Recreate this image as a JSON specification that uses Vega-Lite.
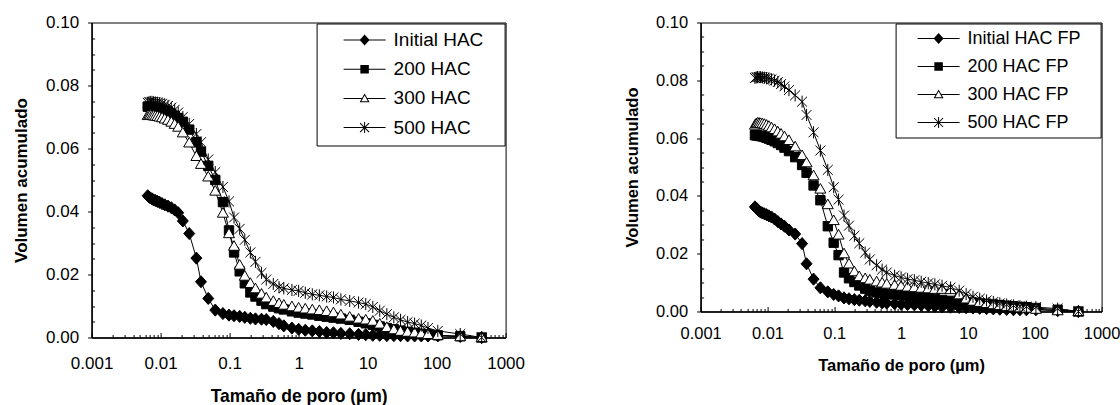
{
"$schema": "https://vega.github.io/schema/vega-lite/v6.json",
"background": "white",
"padding": {"left": 11.6, "top": 12.5, "right": 0, "bottom": 0},
"config": {
  "font": "Liberation Sans",
  "view": {"stroke": "black", "strokeWidth": 1},
  "axis": {"domainColor": "black", "domainWidth": 1.5, "tickColor": "black", "tickWidth": 1, "labelColor": "black", "titleColor": "black", "labelFont": "Liberation Sans", "titleFont": "Liberation Sans", "titleFontWeight": "bold", "grid": false}
},
"datasets": {
"left": [
{"s":"Initial HAC","x":0.0065,"y":0.045},{"s":"Initial HAC","x":0.0068,"y":0.0446},{"s":"Initial HAC","x":0.0071,"y":0.0443},{"s":"Initial HAC","x":0.0075,"y":0.044},{"s":"Initial HAC","x":0.0079,"y":0.0437},{"s":"Initial HAC","x":0.0084,"y":0.0435},{"s":"Initial HAC","x":0.009,"y":0.0432},{"s":"Initial HAC","x":0.0097,"y":0.0429},{"s":"Initial HAC","x":0.0105,"y":0.0425},{"s":"Initial HAC","x":0.0115,"y":0.0421},{"s":"Initial HAC","x":0.0128,"y":0.0417},{"s":"Initial HAC","x":0.0143,"y":0.0412},{"s":"Initial HAC","x":0.016,"y":0.0405},{"s":"Initial HAC","x":0.018,"y":0.0396},{"s":"Initial HAC","x":0.021,"y":0.037},{"s":"Initial HAC","x":0.026,"y":0.033},{"s":"Initial HAC","x":0.033,"y":0.0252},{"s":"Initial HAC","x":0.0385,"y":0.0177},{"s":"Initial HAC","x":0.049,"y":0.0124},{"s":"Initial HAC","x":0.062,"y":0.0087},{"s":"Initial HAC","x":0.08,"y":0.0076},{"s":"Initial HAC","x":0.098,"y":0.0071},{"s":"Initial HAC","x":0.116,"y":0.0069},{"s":"Initial HAC","x":0.14,"y":0.0067},{"s":"Initial HAC","x":0.166,"y":0.0064},{"s":"Initial HAC","x":0.2,"y":0.0061},{"s":"Initial HAC","x":0.237,"y":0.0059},{"s":"Initial HAC","x":0.29,"y":0.0058},{"s":"Initial HAC","x":0.34,"y":0.0057},{"s":"Initial HAC","x":0.43,"y":0.0051},{"s":"Initial HAC","x":0.52,"y":0.0044},{"s":"Initial HAC","x":0.61,"y":0.0037},{"s":"Initial HAC","x":0.8,"y":0.003},{"s":"Initial HAC","x":1,"y":0.0026},{"s":"Initial HAC","x":1.25,"y":0.0023},{"s":"Initial HAC","x":1.58,"y":0.0021},{"s":"Initial HAC","x":2,"y":0.0019},{"s":"Initial HAC","x":2.55,"y":0.0016},{"s":"Initial HAC","x":3.2,"y":0.0015},{"s":"Initial HAC","x":4.1,"y":0.0013},{"s":"Initial HAC","x":5.5,"y":0.0012},{"s":"Initial HAC","x":7.4,"y":0.001},{"s":"Initial HAC","x":9.4,"y":0.0009},{"s":"Initial HAC","x":11.9,"y":0.0007},{"s":"Initial HAC","x":15,"y":0.0007},{"s":"Initial HAC","x":19,"y":0.0006},{"s":"Initial HAC","x":24,"y":0.0006},{"s":"Initial HAC","x":30,"y":0.0006},{"s":"Initial HAC","x":38,"y":0.0005},{"s":"Initial HAC","x":48,"y":0.0005},{"s":"Initial HAC","x":60,"y":0.0005},{"s":"Initial HAC","x":75,"y":0.0005},{"s":"Initial HAC","x":104,"y":0.0005},{"s":"Initial HAC","x":220,"y":0.0003},{"s":"Initial HAC","x":450,"y":0},
{"s":"200 HAC","x":0.0065,"y":0.0733},{"s":"200 HAC","x":0.0068,"y":0.0733},{"s":"200 HAC","x":0.0071,"y":0.0732},{"s":"200 HAC","x":0.0075,"y":0.0731},{"s":"200 HAC","x":0.0079,"y":0.073},{"s":"200 HAC","x":0.0084,"y":0.0729},{"s":"200 HAC","x":0.009,"y":0.0727},{"s":"200 HAC","x":0.0097,"y":0.0725},{"s":"200 HAC","x":0.0105,"y":0.0722},{"s":"200 HAC","x":0.0115,"y":0.0719},{"s":"200 HAC","x":0.0128,"y":0.0715},{"s":"200 HAC","x":0.0143,"y":0.071},{"s":"200 HAC","x":0.016,"y":0.0704},{"s":"200 HAC","x":0.018,"y":0.0697},{"s":"200 HAC","x":0.021,"y":0.0685},{"s":"200 HAC","x":0.026,"y":0.066},{"s":"200 HAC","x":0.033,"y":0.062},{"s":"200 HAC","x":0.0385,"y":0.059},{"s":"200 HAC","x":0.049,"y":0.0545},{"s":"200 HAC","x":0.062,"y":0.05},{"s":"200 HAC","x":0.08,"y":0.043},{"s":"200 HAC","x":0.098,"y":0.034},{"s":"200 HAC","x":0.116,"y":0.027},{"s":"200 HAC","x":0.14,"y":0.021},{"s":"200 HAC","x":0.166,"y":0.0172},{"s":"200 HAC","x":0.2,"y":0.0143},{"s":"200 HAC","x":0.237,"y":0.013},{"s":"200 HAC","x":0.29,"y":0.0117},{"s":"200 HAC","x":0.34,"y":0.0106},{"s":"200 HAC","x":0.43,"y":0.0098},{"s":"200 HAC","x":0.52,"y":0.0093},{"s":"200 HAC","x":0.61,"y":0.0089},{"s":"200 HAC","x":0.8,"y":0.0083},{"s":"200 HAC","x":1,"y":0.0079},{"s":"200 HAC","x":1.25,"y":0.0076},{"s":"200 HAC","x":1.58,"y":0.0073},{"s":"200 HAC","x":2,"y":0.0069},{"s":"200 HAC","x":2.55,"y":0.0066},{"s":"200 HAC","x":3.2,"y":0.0063},{"s":"200 HAC","x":4.1,"y":0.006},{"s":"200 HAC","x":5.5,"y":0.0056},{"s":"200 HAC","x":7.4,"y":0.005},{"s":"200 HAC","x":9.4,"y":0.0045},{"s":"200 HAC","x":11.9,"y":0.004},{"s":"200 HAC","x":15,"y":0.0035},{"s":"200 HAC","x":19,"y":0.003},{"s":"200 HAC","x":24,"y":0.0026},{"s":"200 HAC","x":30,"y":0.0022},{"s":"200 HAC","x":38,"y":0.0018},{"s":"200 HAC","x":48,"y":0.0015},{"s":"200 HAC","x":60,"y":0.0012},{"s":"200 HAC","x":75,"y":0.001},{"s":"200 HAC","x":104,"y":0.0007},{"s":"200 HAC","x":220,"y":0.0004},{"s":"200 HAC","x":450,"y":0},
{"s":"300 HAC","x":0.0065,"y":0.0705},{"s":"300 HAC","x":0.0068,"y":0.0706},{"s":"300 HAC","x":0.0071,"y":0.0706},{"s":"300 HAC","x":0.0075,"y":0.0705},{"s":"300 HAC","x":0.0079,"y":0.0704},{"s":"300 HAC","x":0.0084,"y":0.0703},{"s":"300 HAC","x":0.009,"y":0.0702},{"s":"300 HAC","x":0.0097,"y":0.07},{"s":"300 HAC","x":0.0105,"y":0.0698},{"s":"300 HAC","x":0.0115,"y":0.0694},{"s":"300 HAC","x":0.0128,"y":0.069},{"s":"300 HAC","x":0.0143,"y":0.0684},{"s":"300 HAC","x":0.016,"y":0.0677},{"s":"300 HAC","x":0.018,"y":0.0668},{"s":"300 HAC","x":0.021,"y":0.065},{"s":"300 HAC","x":0.026,"y":0.0618},{"s":"300 HAC","x":0.033,"y":0.0575},{"s":"300 HAC","x":0.0385,"y":0.055},{"s":"300 HAC","x":0.049,"y":0.051},{"s":"300 HAC","x":0.062,"y":0.0465},{"s":"300 HAC","x":0.08,"y":0.0395},{"s":"300 HAC","x":0.098,"y":0.033},{"s":"300 HAC","x":0.116,"y":0.029},{"s":"300 HAC","x":0.14,"y":0.023},{"s":"300 HAC","x":0.166,"y":0.0195},{"s":"300 HAC","x":0.2,"y":0.0172},{"s":"300 HAC","x":0.237,"y":0.0155},{"s":"300 HAC","x":0.29,"y":0.0138},{"s":"300 HAC","x":0.34,"y":0.0126},{"s":"300 HAC","x":0.43,"y":0.0115},{"s":"300 HAC","x":0.52,"y":0.0108},{"s":"300 HAC","x":0.61,"y":0.0103},{"s":"300 HAC","x":0.8,"y":0.0098},{"s":"300 HAC","x":1,"y":0.0094},{"s":"300 HAC","x":1.25,"y":0.0091},{"s":"300 HAC","x":1.58,"y":0.0088},{"s":"300 HAC","x":2,"y":0.0086},{"s":"300 HAC","x":2.55,"y":0.0083},{"s":"300 HAC","x":3.2,"y":0.0079},{"s":"300 HAC","x":4.1,"y":0.0072},{"s":"300 HAC","x":5.5,"y":0.0065},{"s":"300 HAC","x":7.4,"y":0.0059},{"s":"300 HAC","x":9.4,"y":0.0056},{"s":"300 HAC","x":11.9,"y":0.0052},{"s":"300 HAC","x":15,"y":0.0043},{"s":"300 HAC","x":19,"y":0.0032},{"s":"300 HAC","x":24,"y":0.0025},{"s":"300 HAC","x":30,"y":0.002},{"s":"300 HAC","x":38,"y":0.0017},{"s":"300 HAC","x":48,"y":0.0015},{"s":"300 HAC","x":60,"y":0.0012},{"s":"300 HAC","x":75,"y":0.001},{"s":"300 HAC","x":104,"y":0.0007},{"s":"300 HAC","x":220,"y":0.0003},{"s":"300 HAC","x":450,"y":0},
{"s":"500 HAC","x":0.0065,"y":0.0745},{"s":"500 HAC","x":0.0068,"y":0.0747},{"s":"500 HAC","x":0.0071,"y":0.0748},{"s":"500 HAC","x":0.0075,"y":0.0748},{"s":"500 HAC","x":0.0079,"y":0.0747},{"s":"500 HAC","x":0.0084,"y":0.0746},{"s":"500 HAC","x":0.009,"y":0.0745},{"s":"500 HAC","x":0.0097,"y":0.0744},{"s":"500 HAC","x":0.0105,"y":0.0742},{"s":"500 HAC","x":0.0115,"y":0.0739},{"s":"500 HAC","x":0.0128,"y":0.0735},{"s":"500 HAC","x":0.0143,"y":0.073},{"s":"500 HAC","x":0.016,"y":0.0723},{"s":"500 HAC","x":0.018,"y":0.0714},{"s":"500 HAC","x":0.021,"y":0.07},{"s":"500 HAC","x":0.026,"y":0.0678},{"s":"500 HAC","x":0.033,"y":0.0646},{"s":"500 HAC","x":0.0385,"y":0.062},{"s":"500 HAC","x":0.049,"y":0.0565},{"s":"500 HAC","x":0.062,"y":0.0525},{"s":"500 HAC","x":0.08,"y":0.0478},{"s":"500 HAC","x":0.098,"y":0.0432},{"s":"500 HAC","x":0.116,"y":0.0381},{"s":"500 HAC","x":0.14,"y":0.0345},{"s":"500 HAC","x":0.166,"y":0.031},{"s":"500 HAC","x":0.2,"y":0.027},{"s":"500 HAC","x":0.237,"y":0.024},{"s":"500 HAC","x":0.29,"y":0.0205},{"s":"500 HAC","x":0.34,"y":0.0184},{"s":"500 HAC","x":0.43,"y":0.017},{"s":"500 HAC","x":0.52,"y":0.016},{"s":"500 HAC","x":0.61,"y":0.0156},{"s":"500 HAC","x":0.8,"y":0.0151},{"s":"500 HAC","x":1,"y":0.0148},{"s":"500 HAC","x":1.25,"y":0.0142},{"s":"500 HAC","x":1.58,"y":0.0137},{"s":"500 HAC","x":2,"y":0.0134},{"s":"500 HAC","x":2.55,"y":0.013},{"s":"500 HAC","x":3.2,"y":0.0127},{"s":"500 HAC","x":4.1,"y":0.0121},{"s":"500 HAC","x":5.5,"y":0.0116},{"s":"500 HAC","x":7.4,"y":0.0111},{"s":"500 HAC","x":9.4,"y":0.0106},{"s":"500 HAC","x":11.9,"y":0.0097},{"s":"500 HAC","x":15,"y":0.0085},{"s":"500 HAC","x":19,"y":0.0074},{"s":"500 HAC","x":24,"y":0.0064},{"s":"500 HAC","x":30,"y":0.0056},{"s":"500 HAC","x":38,"y":0.0049},{"s":"500 HAC","x":48,"y":0.0044},{"s":"500 HAC","x":60,"y":0.0038},{"s":"500 HAC","x":75,"y":0.003},{"s":"500 HAC","x":104,"y":0.0021},{"s":"500 HAC","x":220,"y":0.0011},{"s":"500 HAC","x":450,"y":0}
],
"right": [
{"s":"Initial HAC FP","x":0.0065,"y":0.0362},{"s":"Initial HAC FP","x":0.0068,"y":0.0358},{"s":"Initial HAC FP","x":0.0071,"y":0.0353},{"s":"Initial HAC FP","x":0.0075,"y":0.0348},{"s":"Initial HAC FP","x":0.0079,"y":0.0344},{"s":"Initial HAC FP","x":0.0084,"y":0.0341},{"s":"Initial HAC FP","x":0.009,"y":0.0338},{"s":"Initial HAC FP","x":0.0097,"y":0.0335},{"s":"Initial HAC FP","x":0.0105,"y":0.0331},{"s":"Initial HAC FP","x":0.0115,"y":0.0327},{"s":"Initial HAC FP","x":0.0128,"y":0.032},{"s":"Initial HAC FP","x":0.0143,"y":0.0311},{"s":"Initial HAC FP","x":0.016,"y":0.0303},{"s":"Initial HAC FP","x":0.018,"y":0.0295},{"s":"Initial HAC FP","x":0.021,"y":0.0282},{"s":"Initial HAC FP","x":0.026,"y":0.0268},{"s":"Initial HAC FP","x":0.033,"y":0.0235},{"s":"Initial HAC FP","x":0.0385,"y":0.0165},{"s":"Initial HAC FP","x":0.049,"y":0.0112},{"s":"Initial HAC FP","x":0.062,"y":0.0082},{"s":"Initial HAC FP","x":0.08,"y":0.0068},{"s":"Initial HAC FP","x":0.098,"y":0.0059},{"s":"Initial HAC FP","x":0.116,"y":0.0054},{"s":"Initial HAC FP","x":0.14,"y":0.0047},{"s":"Initial HAC FP","x":0.166,"y":0.0044},{"s":"Initial HAC FP","x":0.2,"y":0.0041},{"s":"Initial HAC FP","x":0.237,"y":0.0039},{"s":"Initial HAC FP","x":0.29,"y":0.0037},{"s":"Initial HAC FP","x":0.34,"y":0.0035},{"s":"Initial HAC FP","x":0.43,"y":0.0032},{"s":"Initial HAC FP","x":0.52,"y":0.003},{"s":"Initial HAC FP","x":0.61,"y":0.0029},{"s":"Initial HAC FP","x":0.8,"y":0.0027},{"s":"Initial HAC FP","x":1,"y":0.0025},{"s":"Initial HAC FP","x":1.25,"y":0.0024},{"s":"Initial HAC FP","x":1.58,"y":0.0023},{"s":"Initial HAC FP","x":2,"y":0.0022},{"s":"Initial HAC FP","x":2.55,"y":0.002},{"s":"Initial HAC FP","x":3.2,"y":0.0018},{"s":"Initial HAC FP","x":4.1,"y":0.0016},{"s":"Initial HAC FP","x":5.5,"y":0.0015},{"s":"Initial HAC FP","x":7.4,"y":0.0014},{"s":"Initial HAC FP","x":9.4,"y":0.0013},{"s":"Initial HAC FP","x":11.9,"y":0.0012},{"s":"Initial HAC FP","x":15,"y":0.0011},{"s":"Initial HAC FP","x":19,"y":0.001},{"s":"Initial HAC FP","x":24,"y":0.0009},{"s":"Initial HAC FP","x":30,"y":0.0008},{"s":"Initial HAC FP","x":38,"y":0.0007},{"s":"Initial HAC FP","x":48,"y":0.0006},{"s":"Initial HAC FP","x":60,"y":0.0006},{"s":"Initial HAC FP","x":75,"y":0.0006},{"s":"Initial HAC FP","x":104,"y":0.0006},{"s":"Initial HAC FP","x":220,"y":0.0003},{"s":"Initial HAC FP","x":450,"y":0},
{"s":"200 HAC FP","x":0.0065,"y":0.061},{"s":"200 HAC FP","x":0.0068,"y":0.061},{"s":"200 HAC FP","x":0.0071,"y":0.0609},{"s":"200 HAC FP","x":0.0075,"y":0.0608},{"s":"200 HAC FP","x":0.0079,"y":0.0607},{"s":"200 HAC FP","x":0.0084,"y":0.0606},{"s":"200 HAC FP","x":0.009,"y":0.0604},{"s":"200 HAC FP","x":0.0097,"y":0.0601},{"s":"200 HAC FP","x":0.0105,"y":0.0598},{"s":"200 HAC FP","x":0.0115,"y":0.0594},{"s":"200 HAC FP","x":0.0128,"y":0.0589},{"s":"200 HAC FP","x":0.0143,"y":0.0583},{"s":"200 HAC FP","x":0.016,"y":0.0576},{"s":"200 HAC FP","x":0.018,"y":0.0567},{"s":"200 HAC FP","x":0.021,"y":0.0555},{"s":"200 HAC FP","x":0.026,"y":0.0534},{"s":"200 HAC FP","x":0.033,"y":0.0507},{"s":"200 HAC FP","x":0.0385,"y":0.048},{"s":"200 HAC FP","x":0.049,"y":0.0436},{"s":"200 HAC FP","x":0.062,"y":0.0385},{"s":"200 HAC FP","x":0.08,"y":0.0295},{"s":"200 HAC FP","x":0.098,"y":0.0238},{"s":"200 HAC FP","x":0.116,"y":0.0195},{"s":"200 HAC FP","x":0.14,"y":0.0135},{"s":"200 HAC FP","x":0.166,"y":0.0115},{"s":"200 HAC FP","x":0.2,"y":0.0102},{"s":"200 HAC FP","x":0.237,"y":0.009},{"s":"200 HAC FP","x":0.29,"y":0.0079},{"s":"200 HAC FP","x":0.34,"y":0.0072},{"s":"200 HAC FP","x":0.43,"y":0.0066},{"s":"200 HAC FP","x":0.52,"y":0.0063},{"s":"200 HAC FP","x":0.61,"y":0.0061},{"s":"200 HAC FP","x":0.8,"y":0.0059},{"s":"200 HAC FP","x":1,"y":0.0058},{"s":"200 HAC FP","x":1.25,"y":0.0055},{"s":"200 HAC FP","x":1.58,"y":0.0052},{"s":"200 HAC FP","x":2,"y":0.0049},{"s":"200 HAC FP","x":2.55,"y":0.0046},{"s":"200 HAC FP","x":3.2,"y":0.0043},{"s":"200 HAC FP","x":4.1,"y":0.004},{"s":"200 HAC FP","x":5.5,"y":0.0037},{"s":"200 HAC FP","x":7.4,"y":0.0034},{"s":"200 HAC FP","x":9.4,"y":0.0032},{"s":"200 HAC FP","x":11.9,"y":0.0029},{"s":"200 HAC FP","x":15,"y":0.0028},{"s":"200 HAC FP","x":19,"y":0.0026},{"s":"200 HAC FP","x":24,"y":0.0024},{"s":"200 HAC FP","x":30,"y":0.0022},{"s":"200 HAC FP","x":38,"y":0.002},{"s":"200 HAC FP","x":48,"y":0.0018},{"s":"200 HAC FP","x":60,"y":0.0016},{"s":"200 HAC FP","x":75,"y":0.0015},{"s":"200 HAC FP","x":104,"y":0.0012},{"s":"200 HAC FP","x":220,"y":0.0006},{"s":"200 HAC FP","x":450,"y":0},
{"s":"300 HAC FP","x":0.0065,"y":0.0645},{"s":"300 HAC FP","x":0.0068,"y":0.065},{"s":"300 HAC FP","x":0.0071,"y":0.0652},{"s":"300 HAC FP","x":0.0075,"y":0.0652},{"s":"300 HAC FP","x":0.0079,"y":0.0651},{"s":"300 HAC FP","x":0.0084,"y":0.065},{"s":"300 HAC FP","x":0.009,"y":0.0648},{"s":"300 HAC FP","x":0.0097,"y":0.0645},{"s":"300 HAC FP","x":0.0105,"y":0.0641},{"s":"300 HAC FP","x":0.0115,"y":0.0636},{"s":"300 HAC FP","x":0.0128,"y":0.063},{"s":"300 HAC FP","x":0.0143,"y":0.0622},{"s":"300 HAC FP","x":0.016,"y":0.0614},{"s":"300 HAC FP","x":0.018,"y":0.0605},{"s":"300 HAC FP","x":0.021,"y":0.0592},{"s":"300 HAC FP","x":0.026,"y":0.057},{"s":"300 HAC FP","x":0.033,"y":0.054},{"s":"300 HAC FP","x":0.0385,"y":0.0515},{"s":"300 HAC FP","x":0.049,"y":0.047},{"s":"300 HAC FP","x":0.062,"y":0.0424},{"s":"300 HAC FP","x":0.08,"y":0.037},{"s":"300 HAC FP","x":0.098,"y":0.0315},{"s":"300 HAC FP","x":0.116,"y":0.0265},{"s":"300 HAC FP","x":0.14,"y":0.02},{"s":"300 HAC FP","x":0.166,"y":0.0165},{"s":"300 HAC FP","x":0.2,"y":0.0138},{"s":"300 HAC FP","x":0.237,"y":0.0121},{"s":"300 HAC FP","x":0.29,"y":0.0114},{"s":"300 HAC FP","x":0.34,"y":0.0109},{"s":"300 HAC FP","x":0.43,"y":0.0103},{"s":"300 HAC FP","x":0.52,"y":0.0099},{"s":"300 HAC FP","x":0.61,"y":0.0095},{"s":"300 HAC FP","x":0.8,"y":0.0091},{"s":"300 HAC FP","x":1,"y":0.0088},{"s":"300 HAC FP","x":1.25,"y":0.0085},{"s":"300 HAC FP","x":1.58,"y":0.0083},{"s":"300 HAC FP","x":2,"y":0.0081},{"s":"300 HAC FP","x":2.55,"y":0.0079},{"s":"300 HAC FP","x":3.2,"y":0.0077},{"s":"300 HAC FP","x":4.1,"y":0.0077},{"s":"300 HAC FP","x":5.5,"y":0.0076},{"s":"300 HAC FP","x":7.4,"y":0.0058},{"s":"300 HAC FP","x":9.4,"y":0.0044},{"s":"300 HAC FP","x":11.9,"y":0.0036},{"s":"300 HAC FP","x":15,"y":0.0032},{"s":"300 HAC FP","x":19,"y":0.0028},{"s":"300 HAC FP","x":24,"y":0.0024},{"s":"300 HAC FP","x":30,"y":0.0021},{"s":"300 HAC FP","x":38,"y":0.0018},{"s":"300 HAC FP","x":48,"y":0.0016},{"s":"300 HAC FP","x":60,"y":0.0013},{"s":"300 HAC FP","x":75,"y":0.0012},{"s":"300 HAC FP","x":104,"y":0.0008},{"s":"300 HAC FP","x":220,"y":0.0003},{"s":"300 HAC FP","x":450,"y":0},
{"s":"500 HAC FP","x":0.0065,"y":0.0808},{"s":"500 HAC FP","x":0.0068,"y":0.081},{"s":"500 HAC FP","x":0.0071,"y":0.0811},{"s":"500 HAC FP","x":0.0075,"y":0.0811},{"s":"500 HAC FP","x":0.0079,"y":0.0811},{"s":"500 HAC FP","x":0.0084,"y":0.081},{"s":"500 HAC FP","x":0.009,"y":0.0809},{"s":"500 HAC FP","x":0.0097,"y":0.0808},{"s":"500 HAC FP","x":0.0105,"y":0.0806},{"s":"500 HAC FP","x":0.0115,"y":0.0803},{"s":"500 HAC FP","x":0.0128,"y":0.0799},{"s":"500 HAC FP","x":0.0143,"y":0.0794},{"s":"500 HAC FP","x":0.016,"y":0.0787},{"s":"500 HAC FP","x":0.018,"y":0.0779},{"s":"500 HAC FP","x":0.021,"y":0.0766},{"s":"500 HAC FP","x":0.026,"y":0.0748},{"s":"500 HAC FP","x":0.033,"y":0.0726},{"s":"500 HAC FP","x":0.0385,"y":0.068},{"s":"500 HAC FP","x":0.049,"y":0.062},{"s":"500 HAC FP","x":0.062,"y":0.0557},{"s":"500 HAC FP","x":0.08,"y":0.049},{"s":"500 HAC FP","x":0.098,"y":0.043},{"s":"500 HAC FP","x":0.116,"y":0.0387},{"s":"500 HAC FP","x":0.14,"y":0.0332},{"s":"500 HAC FP","x":0.166,"y":0.0297},{"s":"500 HAC FP","x":0.2,"y":0.0262},{"s":"500 HAC FP","x":0.237,"y":0.0236},{"s":"500 HAC FP","x":0.29,"y":0.0204},{"s":"500 HAC FP","x":0.34,"y":0.018},{"s":"500 HAC FP","x":0.43,"y":0.016},{"s":"500 HAC FP","x":0.52,"y":0.0145},{"s":"500 HAC FP","x":0.61,"y":0.0135},{"s":"500 HAC FP","x":0.8,"y":0.0124},{"s":"500 HAC FP","x":1,"y":0.0118},{"s":"500 HAC FP","x":1.25,"y":0.0112},{"s":"500 HAC FP","x":1.58,"y":0.0108},{"s":"500 HAC FP","x":2,"y":0.0103},{"s":"500 HAC FP","x":2.55,"y":0.0098},{"s":"500 HAC FP","x":3.2,"y":0.0094},{"s":"500 HAC FP","x":4.1,"y":0.0089},{"s":"500 HAC FP","x":5.5,"y":0.0083},{"s":"500 HAC FP","x":7.4,"y":0.0072},{"s":"500 HAC FP","x":9.4,"y":0.006},{"s":"500 HAC FP","x":11.9,"y":0.0051},{"s":"500 HAC FP","x":15,"y":0.0044},{"s":"500 HAC FP","x":19,"y":0.0038},{"s":"500 HAC FP","x":24,"y":0.0033},{"s":"500 HAC FP","x":30,"y":0.0028},{"s":"500 HAC FP","x":38,"y":0.0024},{"s":"500 HAC FP","x":48,"y":0.0021},{"s":"500 HAC FP","x":60,"y":0.0018},{"s":"500 HAC FP","x":75,"y":0.0017},{"s":"500 HAC FP","x":104,"y":0.0015},{"s":"500 HAC FP","x":220,"y":0.001},{"s":"500 HAC FP","x":450,"y":0}
]
},
"spacing": 98,
"resolve": {"scale": {"x": "independent", "y": "independent", "shape": "independent", "fill": "independent"}, "legend": {"shape": "independent", "fill": "independent"}},
"hconcat": [
{
  "width": 414, "height": 315,
  "data": {"name": "left"},
  "resolve": {"scale": {"shape": "independent", "fill": "independent"}, "legend": {"shape": "independent", "fill": "independent"}},
  "encoding": {
    "x": {"field": "x", "type": "quantitative", "title": "Tamaño de poro (µm)",
      "scale": {"type": "log", "domain": [0.001, 1000], "nice": false},
      "axis": {"values": [0.001,0.002,0.003,0.004,0.005,0.006,0.007,0.008,0.009,0.01,0.02,0.03,0.04,0.05,0.06,0.07,0.08,0.09,0.1,0.2,0.3,0.4,0.5,0.6,0.7,0.8,0.9,1,2,3,4,5,6,7,8,9,10,20,30,40,50,60,70,80,90,100,200,300,400,500,600,700,800,900,1000],
        "labelExpr": "indexof([0.001,0.01,0.1,1,10,100,1000], datum.value) >= 0 ? format(datum.value, '~g') : ''",
        "tickSize": {"condition": {"test": "indexof([0.001,0.01,0.1,1,10,100,1000], datum.value) >= 0", "value": -5}, "value": -3},
        "labelPadding": 22.8, "labelFontSize": 17, "titleFontSize": 17.5, "titlePadding": 14.5, "labelFlush": false, "labelOverlap": false}},
    "y": {"field": "y", "type": "quantitative", "title": "Volumen acumulado",
      "scale": {"domain": [0, 0.1], "nice": false},
      "axis": {"values": [0,0.005,0.01,0.015,0.02,0.025,0.03,0.035,0.04,0.045,0.05,0.055,0.06,0.065,0.07,0.075,0.08,0.085,0.09,0.095,0.1],
        "labelExpr": "abs(datum.value*50 - round(datum.value*50)) < 0.000001 ? format(datum.value, '.2f') : ''",
        "tickSize": {"condition": {"test": "abs(datum.value*50 - round(datum.value*50)) < 0.000001", "value": 4}, "value": -3},
        "labelPadding": 9, "labelFontSize": 17, "titleFontSize": 17, "titlePadding": 15.4, "labelOverlap": false}}
  },
  "layer": [
    {"mark": {"type": "line", "color": "black", "strokeWidth": 1},
     "encoding": {"detail": {"field": "s", "type": "nominal"}}},
    {"mark": {"type": "point", "filled": true, "size": 121, "stroke": "black", "strokeWidth": 1, "opacity": 1},
     "encoding": {
       "shape": {"field": "s", "type": "nominal", "legend": null,
         "scale": {"domain": ["Initial HAC", "200 HAC", "300 HAC", "500 HAC"], "range": ["M0,-1.1L1,0L0,1.1L-1,0Z", "M-0.85,-0.85H0.85V0.85H-0.85Z", "M0,-1L1,0.75H-1Z", "M-0.9,-0.9L0.9,0.9M-0.9,0.9L0.9,-0.9M0,-1.1V1.1"]}},
       "fill": {"field": "s", "type": "nominal", "legend": null,
         "scale": {"domain": ["Initial HAC", "200 HAC", "300 HAC", "500 HAC"], "range": ["black", "black", "white", "transparent"]}}
     }},
    {"transform": [{"filter": "datum.y < 0"}],
     "mark": {"type": "point", "filled": true, "color": "black", "size": 100, "opacity": 1},
     "encoding": {
       "shape": {"field": "s", "type": "nominal",
         "scale": {"domain": ["Initial HAC", "200 HAC", "300 HAC", "500 HAC"], "range": [
           "M-4.2,-0.1H4.2V0.1H-4.2Z M0,-1.1L1,0L0,1.1L-1,0Z",
           "M-4.2,-0.1H4.2V0.1H-4.2Z M-0.85,-0.85H0.85V0.85H-0.85Z",
           "M-4.2,-0.1H-0.5V0.1H-4.2Z M0.5,-0.1H4.2V0.1H0.5Z M0,-1L1,0.75H-1Z M0,-0.596L-0.655,0.55L0.655,0.55Z",
           "M-4.2,-0.1H4.2V0.1H-4.2Z M-0.1,-1.1H0.1V1.1H-0.1Z M-0.829,-0.971L0.971,0.829L0.829,0.971L-0.971,-0.829Z M-0.971,0.829L0.829,-0.971L0.971,-0.829L-0.829,0.971Z"]},
         "legend": {"orient": "top-right", "offset": 1, "title": null, "padding": 7, "strokeColor": "black", "fillColor": "white",
           "labelFont": "Liberation Sans", "labelFontSize": 19, "labelColor": "black", "symbolSize": 100, "symbolStrokeWidth": 0, "symbolFillColor": "black",
           "symbolOffset": 31.5, "labelOffset": 19.5, "rowPadding": 9.2, "labelExpr": "datum.label + '\u2800'"}}
     }}
  ]
},
{
  "width": 401, "height": 289,
  "data": {"name": "right"},
  "resolve": {"scale": {"shape": "independent", "fill": "independent"}, "legend": {"shape": "independent", "fill": "independent"}},
  "encoding": {
    "x": {"field": "x", "type": "quantitative", "title": "Tamaño de poro (µm)",
      "scale": {"type": "log", "domain": [0.001, 1000], "nice": false},
      "axis": {"values": [0.001,0.002,0.003,0.004,0.005,0.006,0.007,0.008,0.009,0.01,0.02,0.03,0.04,0.05,0.06,0.07,0.08,0.09,0.1,0.2,0.3,0.4,0.5,0.6,0.7,0.8,0.9,1,2,3,4,5,6,7,8,9,10,20,30,40,50,60,70,80,90,100,200,300,400,500,600,700,800,900,1000],
        "labelExpr": "indexof([0.001,0.01,0.1,1,10,100,1000], datum.value) >= 0 ? format(datum.value, '~g') : ''",
        "tickSize": {"condition": {"test": "indexof([0.001,0.01,0.1,1,10,100,1000], datum.value) >= 0", "value": -5}, "value": -3},
        "labelPadding": 19.5, "labelFontSize": 16.5, "titleFontSize": 16.5, "titlePadding": 13.5, "labelFlush": false, "labelOverlap": false}},
    "y": {"field": "y", "type": "quantitative", "title": "Volumen acumulado",
      "scale": {"domain": [0, 0.1], "nice": false},
      "axis": {"values": [0,0.005,0.01,0.015,0.02,0.025,0.03,0.035,0.04,0.045,0.05,0.055,0.06,0.065,0.07,0.075,0.08,0.085,0.09,0.095,0.1],
        "labelExpr": "abs(datum.value*50 - round(datum.value*50)) < 0.000001 ? format(datum.value, '.2f') : ''",
        "tickSize": {"condition": {"test": "abs(datum.value*50 - round(datum.value*50)) < 0.000001", "value": 4}, "value": -3},
        "labelPadding": 9, "labelFontSize": 16.5, "titleFontSize": 16.5, "titlePadding": 14.6, "labelOverlap": false}}
  },
  "layer": [
    {"mark": {"type": "line", "color": "black", "strokeWidth": 1},
     "encoding": {"detail": {"field": "s", "type": "nominal"}}},
    {"mark": {"type": "point", "filled": true, "size": 121, "stroke": "black", "strokeWidth": 1, "opacity": 1},
     "encoding": {
       "shape": {"field": "s", "type": "nominal", "legend": null,
         "scale": {"domain": ["Initial HAC FP", "200 HAC FP", "300 HAC FP", "500 HAC FP"], "range": ["M0,-1.1L1,0L0,1.1L-1,0Z", "M-0.85,-0.85H0.85V0.85H-0.85Z", "M0,-1L1,0.75H-1Z", "M-0.9,-0.9L0.9,0.9M-0.9,0.9L0.9,-0.9M0,-1.1V1.1"]}},
       "fill": {"field": "s", "type": "nominal", "legend": null,
         "scale": {"domain": ["Initial HAC FP", "200 HAC FP", "300 HAC FP", "500 HAC FP"], "range": ["black", "black", "white", "transparent"]}}
     }},
    {"transform": [{"filter": "datum.y < 0"}],
     "mark": {"type": "point", "filled": true, "color": "black", "size": 100, "opacity": 1},
     "encoding": {
       "shape": {"field": "s", "type": "nominal",
         "scale": {"domain": ["Initial HAC FP", "200 HAC FP", "300 HAC FP", "500 HAC FP"], "range": [
           "M-4.2,-0.1H4.2V0.1H-4.2Z M0,-1.1L1,0L0,1.1L-1,0Z",
           "M-4.2,-0.1H4.2V0.1H-4.2Z M-0.85,-0.85H0.85V0.85H-0.85Z",
           "M-4.2,-0.1H-0.5V0.1H-4.2Z M0.5,-0.1H4.2V0.1H0.5Z M0,-1L1,0.75H-1Z M0,-0.596L-0.655,0.55L0.655,0.55Z",
           "M-4.2,-0.1H4.2V0.1H-4.2Z M-0.1,-1.1H0.1V1.1H-0.1Z M-0.829,-0.971L0.971,0.829L0.829,0.971L-0.971,-0.829Z M-0.971,0.829L0.829,-0.971L0.971,-0.829L-0.829,0.971Z"]},
         "legend": {"orient": "top-right", "offset": 1, "title": null, "padding": 6, "strokeColor": "black", "fillColor": "white",
           "labelFont": "Liberation Sans", "labelFontSize": 18, "labelColor": "black", "symbolSize": 100, "symbolStrokeWidth": 0, "symbolFillColor": "black",
           "symbolOffset": 28, "labelOffset": 20, "rowPadding": 10, "labelExpr": "datum.label + '\u2800'"}}
     }}
  ]
}
]
}
